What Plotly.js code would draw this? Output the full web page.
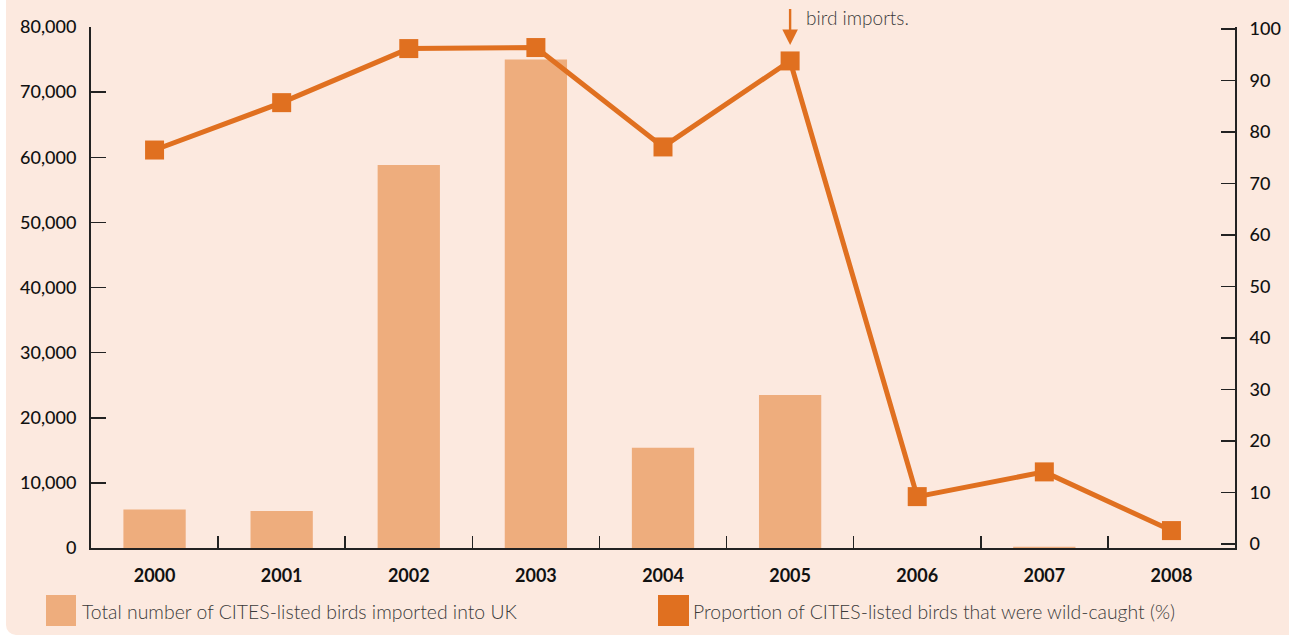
<!DOCTYPE html>
<html>
<head>
<meta charset="utf-8">
<script src="https://cdn.plot.ly/plotly-3.0.1.min.js"></script>
<style>
  html, body { margin: 0; padding: 0; background: #ffffff; overflow: hidden; }
  #panel { position: absolute; left: 6px; top: -20px; width: 1320px; height: 655px; background: #fce9df; border-radius: 10px; }
  #chart { position: absolute; left: 0; top: 0; width: 1289px; height: 638px; }
</style>
</head>
<body>
<div id="panel"></div>
<div id="chart"></div>
<script>
// ---- data ----
const years = ["2000", "2001", "2002", "2003", "2004", "2005", "2006", "2007", "2008"];
const totalImported = [5900, 5700, 58800, 75000, 15400, 23500, 0, 200, 0];
const wildCaughtPct = [76.5, 85.7, 96.2, 96.4, 77.1, 93.8, 9.2, 14.0, 2.6];
const leftTicks = [0, 10000, 20000, 30000, 40000, 50000, 60000, 70000, 80000];
const rightTicks = [0, 10, 20, 30, 40, 50, 60, 70, 80, 90, 100];
const legendLabels = ["Total number of CITES-listed birds imported into UK",
                      "Proportion of CITES-listed birds that were wild-caught (%)"];
const noteText = "Ban on wild<br>bird imports.";
const noteIndex = 5; // position of 2005 in years

// ---- style ----
const barColor = "#eead7d";
const lineColor = "#e07020";
const axisColor = "#222222";
const fontFam = "Lato, 'Open Sans', sans-serif";

const traces = [
  {
    type: "bar", x: years, y: totalImported, name: legendLabels[0],
    marker: { color: barColor, line: { width: 0 } }, width: 0.49,
    yaxis: "y", hoverinfo: "skip"
  },
  {
    type: "scatter", mode: "lines+markers", x: years, y: wildCaughtPct, name: legendLabels[1],
    line: { color: lineColor, width: 5 },
    marker: { color: lineColor, symbol: "square", size: 19 },
    yaxis: "y2", hoverinfo: "skip"
  }
];

const W = 1144, H = 521; // plot area px
function px(p) { return (p - 91) / W; }
function py(p) { return (548 - p) / H; }

const layout = {
  width: 1289, height: 638,
  margin: { l: 91, r: 54, t: 27, b: 90 },
  paper_bgcolor: "rgba(0,0,0,0)",
  plot_bgcolor: "rgba(0,0,0,0)",
  showlegend: false,
  font: { family: fontFam, color: "#111" },
  xaxis: {
    type: "category", categoryorder: "array", categoryarray: years,
    range: [-0.5, 8.5],
    showline: true, linecolor: axisColor, linewidth: 2,
    ticks: "inside", tickson: "boundaries", ticklen: 12, tickwidth: 1.5, tickcolor: axisColor,
    tickfont: { family: fontFam, size: 18, color: "#111", weight: "bold" },
    ticklabelstandoff: 10,
    showgrid: false, zeroline: false, fixedrange: true
  },
  yaxis: {
    range: [0, 80000], tickmode: "array", tickvals: leftTicks, tickformat: ",d",
    showline: true, linecolor: axisColor, linewidth: 2,
    ticks: "inside", ticklen: 15, tickwidth: 1.5, tickcolor: axisColor,
    tickfont: { family: fontFam, size: 18, color: "#111", weight: 500 },
    ticklabelstandoff: 9,
    showgrid: false, zeroline: false, fixedrange: true
  },
  yaxis2: {
    overlaying: "y", side: "right",
    range: [-0.78, 100.39], tickmode: "array", tickvals: rightTicks,
    showline: true, linecolor: axisColor, linewidth: 2,
    ticks: "inside", ticklen: 14, tickwidth: 1.5, tickcolor: axisColor,
    tickfont: { family: fontFam, size: 18, color: "#111", weight: 500 },
    ticklabelstandoff: 9,
    showgrid: false, zeroline: false, fixedrange: true
  },
  shapes: [
    { type: "rect", xref: "paper", yref: "paper", x0: px(46), x1: px(76), y0: py(626), y1: py(595),
      fillcolor: barColor, line: { width: 0 } },
    { type: "rect", xref: "paper", yref: "paper", x0: px(658), x1: px(689), y0: py(626), y1: py(595),
      fillcolor: lineColor, line: { width: 0 } }
  ],
  annotations: [
    { xref: "paper", yref: "paper", x: px(80), y: py(611), xanchor: "left", yanchor: "middle",
      text: legendLabels[0], showarrow: false,
      font: { family: fontFam, size: 19.4, color: "#3a3a3a", weight: 300 } },
    { xref: "paper", yref: "paper", x: px(691), y: py(611), xanchor: "left", yanchor: "middle",
      text: legendLabels[1], showarrow: false,
      font: { family: fontFam, size: 19.4, color: "#3a3a3a", weight: 300 } },
    { xref: "x", yref: "paper", x: noteIndex, y: py(45), text: " ", showarrow: true,
      ax: 0, ay: -70, axref: "pixel", ayref: "pixel",
      arrowhead: 2, arrowsize: 1.3, arrowwidth: 2.4, arrowcolor: lineColor, standoff: 0 },
    { xref: "x", yref: "paper", x: noteIndex, y: 1, xshift: 14, yshift: -4,
      xanchor: "left", yanchor: "bottom", align: "left",
      text: noteText, showarrow: false,
      font: { family: fontFam, size: 19, color: "#3a3a3a", weight: 300 } }
  ]
};

Plotly.newPlot("chart", traces, layout, { displayModeBar: false, staticPlot: true });
</script>
</body>
</html>
